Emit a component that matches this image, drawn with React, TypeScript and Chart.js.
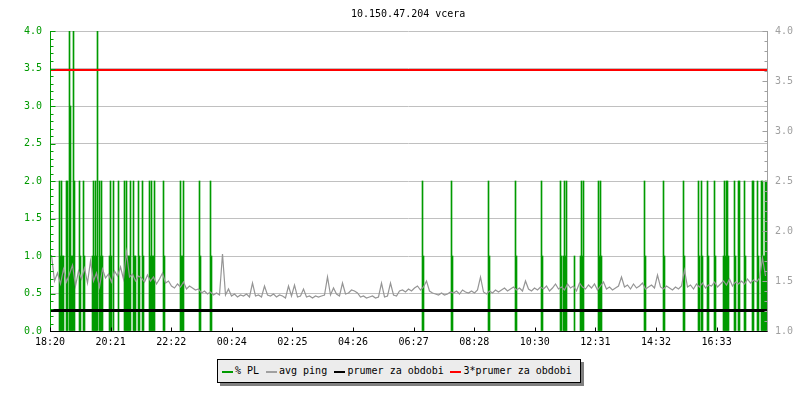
import React, { useEffect, useRef } from "react";
import { Chart, registerables } from "chart.js";

Chart.register(...registerables);

const TITLE = "10.150.47.204 vcera";
const FONT = "DejaVu Sans Mono";
const GREEN = "#009a00";
const GRAY = "#a0a0a0";
const PING_LINE = "#959595";
const RED = "#ff0000";
const BLACK = "#000000";

// time axis in minutes after 18:20
const X_MAX = 1434;
const X_TICK_MINUTES = [0, 121.2, 242.4, 363.6, 484.8, 606, 727.2, 848.4, 969.6, 1090.8, 1212, 1333.2];
const X_TICK_LABELS = ["18:20", "20:21", "22:22", "00:24", "02:25", "04:26", "06:27", "08:28", "10:30", "12:31", "14:32", "16:33"];

// % packet loss events (minute, value)
const PL_MINUTES = [
  19, 21, 23, 25, 27, 33, 35, 39, 41, 43, 45, 47, 49, 59, 61, 67, 69,
  85, 87, 89, 91, 93, 95, 99, 101, 103, 105, 119, 121, 123, 127, 137,
  149, 151, 153, 155, 157, 159, 161, 167, 169, 171, 177, 179, 185, 187,
  199, 201, 203, 205, 207, 209, 227, 229, 261, 263, 265, 267, 299, 301, 321, 323,
  745, 747, 803, 805, 877, 879, 931, 933, 983, 985,
  1021, 1023, 1027, 1029, 1031, 1033, 1049, 1061, 1063, 1065, 1067,
  1097, 1099, 1101, 1103, 1189, 1191, 1227, 1229, 1267, 1269,
  1297, 1299, 1303, 1305, 1315, 1317, 1329, 1331,
  1347, 1349, 1351, 1353, 1355, 1357, 1369, 1371, 1377, 1379, 1389, 1391,
  1405, 1407, 1415, 1417, 1423, 1425, 1427, 1429, 1431, 1433,
];
const PL_VALUES = [
  2, 1, 2, 1, 1, 2, 2, 4.5, 3, 1, 1, 4.5, 2, 2, 1, 2, 1,
  1, 2, 1, 2, 1, 4.5, 2, 1, 2, 1, 1, 2, 1, 2, 2,
  2, 1, 2, 1, 1, 1, 2, 2, 1, 1, 2, 1, 2, 1,
  2, 1, 2, 1, 1, 2, 2, 1, 2, 1, 1, 2, 2, 1, 2, 1,
  2, 1, 2, 1, 2, 1, 2, 1, 2, 1,
  2, 1, 1, 2, 1, 2, 1, 1, 2, 1, 2,
  2, 1, 2, 1, 2, 1, 2, 1, 2, 1,
  2, 1, 2, 1, 2, 1, 2, 1,
  1, 2, 1, 2, 2, 1, 2, 1, 2, 2, 2, 1,
  2, 2, 2, 1, 2, 2, 1, 1, 2, 2,
];

// avg ping samples (right axis), one every PING_STEP minutes from PING_START
const PING_START = 3;
const PING_STEP = 6;
const PING_VALUES = [
  1.76, 1.50, 1.58, 1.47, 1.62, 1.49, 1.57, 1.66, 1.45, 1.60,
  1.52, 1.63, 1.48, 1.70, 1.50, 1.58, 1.44, 1.62, 1.53, 1.57,
  1.49, 1.60, 1.55, 1.64, 1.52, 1.79, 1.54, 1.57, 1.50, 1.55,
  1.53, 1.49, 1.56, 1.50, 1.54, 1.47, 1.52, 1.58, 1.48, 1.50,
  1.45, 1.43, 1.47, 1.44, 1.49, 1.42, 1.45, 1.43, 1.41, 1.42,
  1.38, 1.40, 1.37, 1.39, 1.36, 1.38, 1.36, 1.77, 1.36, 1.42,
  1.35, 1.37, 1.34, 1.36, 1.35, 1.37, 1.34, 1.48, 1.35, 1.36,
  1.34, 1.45, 1.36, 1.35, 1.37, 1.34, 1.36, 1.35, 1.33, 1.45,
  1.35, 1.46, 1.34, 1.35, 1.42, 1.34, 1.35, 1.33, 1.35, 1.34,
  1.35, 1.36, 1.54, 1.36, 1.43, 1.37, 1.35, 1.48, 1.37, 1.38,
  1.41, 1.40, 1.38, 1.34, 1.35, 1.33, 1.34, 1.35, 1.33, 1.34,
  1.48, 1.34, 1.35, 1.48, 1.36, 1.35, 1.40, 1.41, 1.39, 1.42,
  1.40, 1.43, 1.45, 1.41, 1.44, 1.50, 1.40, 1.38, 1.37, 1.36,
  1.38, 1.36, 1.37, 1.39, 1.38, 1.40, 1.37, 1.41, 1.39, 1.38,
  1.40, 1.38, 1.41, 1.54, 1.39, 1.37, 1.40, 1.38, 1.41, 1.39,
  1.41, 1.43, 1.40, 1.42, 1.44, 1.41, 1.43, 1.40, 1.50, 1.42,
  1.40, 1.43, 1.41, 1.44, 1.42, 1.45, 1.40, 1.43, 1.47, 1.42,
  1.44, 1.41, 1.47, 1.43, 1.45, 1.40, 1.48, 1.44, 1.42, 1.46,
  1.43, 1.47, 1.41, 1.45, 1.49, 1.42, 1.44, 1.41, 1.43, 1.45,
  1.54, 1.44, 1.46, 1.42, 1.47, 1.43, 1.45, 1.48, 1.42, 1.44,
  1.46, 1.43, 1.56, 1.44, 1.42, 1.45, 1.43, 1.41, 1.44, 1.42,
  1.45, 1.61, 1.44, 1.46, 1.42, 1.47, 1.44, 1.48, 1.43, 1.46,
  1.45, 1.49, 1.44, 1.47, 1.50, 1.46, 1.52, 1.45, 1.49, 1.47,
  1.50, 1.47, 1.52, 1.48, 1.51, 1.49, 1.53, 1.73, 1.55,
];

const PRUMER = 1.205;
const PRUMER3 = 3.61;

const LEGEND_ITEMS = [
  { label: "% PL", color: GREEN, swatchX: 222, textX: 235 },
  { label: "avg ping", color: GRAY, swatchX: 266, textX: 279 },
  { label: "prumer za obdobi", color: BLACK, swatchX: 334, textX: 347.5 },
  { label: "3*prumer za obdobi", color: RED, swatchX: 450, textX: 463.5 },
];

const axesPlugin = {
  id: "rrdAxes",
  afterDatasetsDraw(chart: any) {
    const { ctx, chartArea: a, scales } = chart;
    const yL = scales.y;
    const yR = scales.y2;
    const xs = scales.x;
    const left = Math.round(a.left) + 0.5;
    const right = Math.round(a.right) + 0.5;
    const bottom = Math.round(a.bottom) + 0.5;
    ctx.save();
    ctx.lineWidth = 1;
    // left axis
    ctx.strokeStyle = GREEN;
    ctx.beginPath();
    ctx.moveTo(left, a.top);
    ctx.lineTo(left, a.bottom + 1);
    for (let i = 0; i <= 40; i++) {
      const y = Math.round(yL.getPixelForValue(i / 10)) + 0.5;
      const len = i % 5 === 0 ? 5 : 3;
      ctx.moveTo(left, y);
      ctx.lineTo(left + len, y);
    }
    ctx.stroke();
    // right axis
    ctx.strokeStyle = GRAY;
    ctx.beginPath();
    ctx.moveTo(right, a.top);
    ctx.lineTo(right, a.bottom + 1);
    for (let i = 10; i <= 40; i++) {
      const y = Math.round(yR.getPixelForValue(i / 10)) + 0.5;
      const len = i % 5 === 0 ? 5 : 3;
      ctx.moveTo(right, y);
      ctx.lineTo(right - len, y);
    }
    ctx.stroke();
    // bottom axis
    ctx.strokeStyle = BLACK;
    ctx.beginPath();
    ctx.moveTo(a.left, bottom);
    ctx.lineTo(right, bottom);
    X_TICK_MINUTES.forEach((m) => {
      const x = Math.round(xs.getPixelForValue(m)) + 0.5;
      ctx.moveTo(x, bottom);
      ctx.lineTo(x, bottom - 4);
    });
    ctx.stroke();
    ctx.restore();
  },
};

export default function App() {
  const canvasRef = useRef<HTMLCanvasElement | null>(null);

  useEffect(() => {
    document.body.style.margin = "0";
    const canvas = canvasRef.current;
    if (!canvas) return;
    const font = { family: FONT, size: 10 };
    const chart = new Chart(canvas, {
      type: "bar",
      data: {
        datasets: [
          {
            type: "bar",
            label: "% PL",
            data: PL_MINUTES.map((m, i) => ({ x: m, y: PL_VALUES[i] })),
            backgroundColor: GREEN,
            borderWidth: 0,
            barThickness: 1,
            grouped: false,
            xAxisID: "x",
            yAxisID: "y",
            order: 4,
          } as any,
          {
            type: "line",
            label: "avg ping",
            data: PING_VALUES.map((v, i) => ({ x: PING_START + i * PING_STEP, y: v })),
            borderColor: PING_LINE,
            borderWidth: 1.2,
            pointRadius: 0,
            tension: 0,
            xAxisID: "x",
            yAxisID: "y2",
            order: 3,
          } as any,
          {
            type: "line",
            label: "prumer za obdobi",
            data: [
              { x: 0, y: PRUMER },
              { x: X_MAX, y: PRUMER },
            ],
            borderColor: BLACK,
            borderWidth: 3,
            pointRadius: 0,
            xAxisID: "x",
            yAxisID: "y2",
            order: 2,
          } as any,
          {
            type: "line",
            label: "3*prumer za obdobi",
            data: [
              { x: 0, y: PRUMER3 },
              { x: X_MAX, y: PRUMER3 },
            ],
            borderColor: RED,
            borderWidth: 2,
            pointRadius: 0,
            xAxisID: "x",
            yAxisID: "y2",
            order: 1,
          } as any,
        ],
      },
      options: {
        responsive: false,
        animation: false,
        events: [],
        layout: { padding: { top: 31, left: 0, right: 0, bottom: 0 } },
        plugins: {
          legend: { display: false },
          title: { display: false },
          tooltip: { enabled: false },
        },
        scales: {
          x: {
            type: "linear",
            offset: false,
            min: 0,
            max: X_MAX,
            afterBuildTicks: (s: any) => {
              s.ticks = X_TICK_MINUTES.map((v) => ({ value: v }));
            },
            afterFit: (s: any) => {
              s.height = 69;
            },
            ticks: {
              callback: (_v: any, i: number) => X_TICK_LABELS[i],
              color: BLACK,
              font,
              maxRotation: 0,
              autoSkip: false,
              padding: 5,
            },
            grid: { display: false, drawTicks: false, offset: false },
            border: { display: false },
          },
          y: {
            position: "left",
            min: 0,
            max: 4,
            afterFit: (s: any) => {
              s.width = 50;
            },
            ticks: {
              stepSize: 0.5,
              callback: (v: any) => Number(v).toFixed(1),
              color: GREEN,
              font,
              padding: 8,
            },
            grid: { color: "#c0c0c0", drawTicks: false },
            border: { display: false },
          },
          y2: {
            position: "right",
            min: 1,
            max: 4,
            afterFit: (s: any) => {
              s.width = 33;
            },
            ticks: {
              stepSize: 0.5,
              callback: (v: any) => Number(v).toFixed(1),
              color: GRAY,
              font,
              padding: 8,
            },
            grid: { display: false, drawTicks: false },
            border: { display: false },
          },
        },
      } as any,
      plugins: [axesPlugin],
    });
    return () => chart.destroy();
  }, []);

  const textStyle: React.CSSProperties = {
    position: "absolute",
    fontFamily: FONT,
    fontSize: "10px",
    lineHeight: "10px",
    color: "#000",
    whiteSpace: "pre",
  };

  return (
    <div style={{ position: "relative", width: 800, height: 400, background: "#fff", overflow: "hidden" }}>
      <canvas ref={canvasRef} width={800} height={400} style={{ position: "absolute", left: 0, top: 0, width: 800, height: 400 }} />
      <span style={{ ...textStyle, left: 351, top: 9 }}>{TITLE}</span>
      <div
        style={{
          position: "absolute",
          left: 220,
          top: 362,
          width: 364,
          height: 24,
          background: "#808080",
        }}
      />
      <div
        style={{
          position: "absolute",
          left: 217,
          top: 359,
          width: 364,
          height: 24,
          boxSizing: "border-box",
          border: "1px solid #000",
          background: "#ececec",
        }}
      />
      {LEGEND_ITEMS.map((it) => (
        <React.Fragment key={it.label}>
          <div style={{ position: "absolute", left: it.swatchX, top: 371, width: 11, height: 2, background: it.color }} />
          <span style={{ ...textStyle, left: it.textX, top: 365.5 }}>{it.label}</span>
        </React.Fragment>
      ))}
    </div>
  );
}
